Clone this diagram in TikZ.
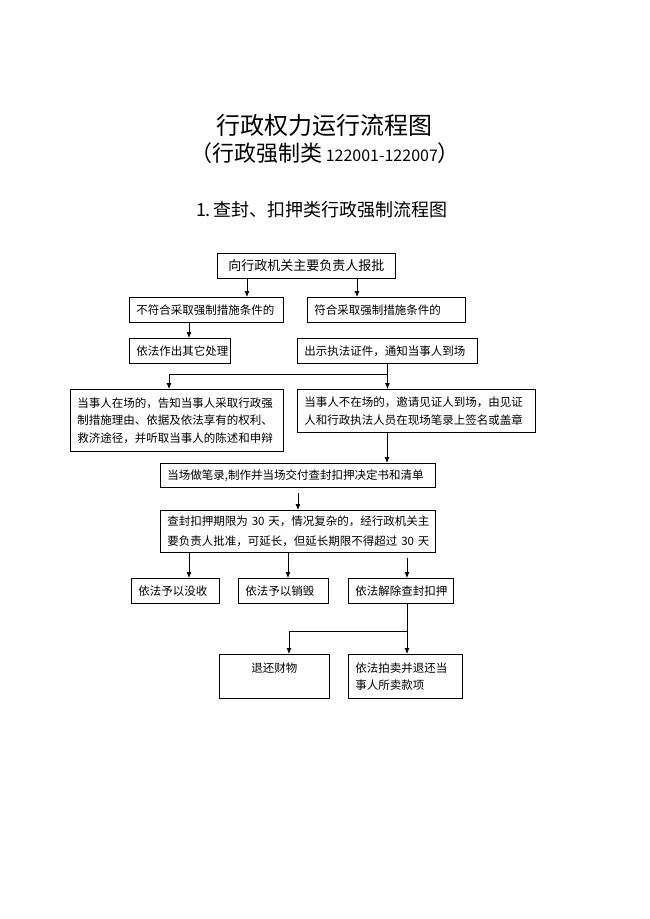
\documentclass[tikz,border=0pt]{standalone}
\usepackage{fontspec}
\setmainfont{Noto Sans CJK SC}
\usepackage{tikz}
\usetikzlibrary{arrows.meta,calc}

\tikzset{
  box/.style={draw, line width=0.9pt, anchor=north west, inner xsep=7pt, inner ysep=0pt,
    align=left, font=\fontsize{11.5}{17.5}\selectfont},
  arr/.style={line width=0.8pt, -{Latex[length=6pt,width=5pt]}},
  ln/.style={line width=0.8pt}
}

\begin{document}
\begin{tikzpicture}[x=1pt,y=-1pt]
\useasboundingbox (0,0) rectangle (649,919);
% titles
\node (title) at (324,125) {\fontsize{24}{24}\selectfont 行政权力运行流程图};
\node (subtitle) at (325,153) {\fontsize{22}{22}\selectfont （行政强制类\,{\fontsize{16}{16}\selectfont 122001-122007}）};
\node (heading) at (322,210) {\fontsize{18}{18}\selectfont 1.\,查封、扣押类行政强制流程图};
% boxes
\node[box, align=center, minimum width=178pt, minimum height=25pt, text width=164pt, font=\fontsize{13}{15}\selectfont] (top) at (217,253) {向行政机关主要负责人报批};
\node[box, minimum width=154pt, minimum height=25pt, text width=140pt] (nofit) at (129,297) {不符合采取强制措施条件的};
\node[box, minimum width=158pt, minimum height=25pt, text width=144pt] (fit) at (307,297) {符合采取强制措施条件的};
\node[box, minimum width=101pt, minimum height=25pt, text width=87pt] (other) at (129,338) {依法作出其它处理};
\node[box, minimum width=180pt, minimum height=25pt, text width=166pt] (show) at (297,338) {出示执法证件，通知当事人到场};
\node[box, minimum width=213pt, minimum height=62pt, text width=199pt] (present) at (70,389) {当事人在场的，告知当事人采取行政强\\制措施理由、依据及依法享有的权利、\\救济途径，并听取当事人的陈述和申辩};
\node[box, minimum width=238pt, minimum height=43pt, text width=224pt] (absent) at (297,389) {当事人不在场的，邀请见证人到场，由见证\\人和行政执法人员在现场笔录上签名或盖章};
\node[box, minimum width=275pt, minimum height=24pt, text width=261pt] (record) at (160,463) {当场做笔录,制作并当场交付查封扣押决定书和清单};
\node[box, minimum width=275pt, minimum height=42pt, text width=261pt, font=\fontsize{11.5}{20}\selectfont] (term) at (160,510) {查封扣押期限为~30~天，情况复杂的，经行政机关主\\要负责人批准，可延长，但延长期限不得超过~30~天};
\node[box, minimum width=88pt, minimum height=25pt, text width=74pt] (confis) at (131,578) {依法予以没收};
\node[box, minimum width=90pt, minimum height=25pt, text width=76pt] (destroy) at (238,578) {依法予以销毁};
\node[box, minimum width=105pt, minimum height=25pt, text width=91pt] (release) at (348,578) {依法解除查封扣押};
\node[box, align=center, minimum width=110pt, minimum height=44pt, text width=96pt] (returnp) at (219,654) {退还财物\\\mbox{}};
\node[box, minimum width=114pt, minimum height=44pt, text width=100pt] (auction) at (348,654) {依法拍卖并退还当\\事人所卖款项};
% joints
\coordinate (split) at ($(show.south)+(0,10)$);
\coordinate (rjoin) at ($([xshift=59pt]release.south west)+(0,27)$);
% connectors
\draw[arr] ([xshift=30pt]top.south west) -- ([xshift=30pt]top.south west |- nofit.north);
\draw[arr] ([xshift=140pt]top.south west) -- ([xshift=140pt]top.south west |- fit.north);
\draw[arr] ([xshift=60pt]nofit.south west) -- ([xshift=60pt]nofit.south west |- other.north);
\draw[arr] (show.south) -- (show.south |- absent.north);
\draw[arr] (split) -| ([xshift=99pt]present.north west);
\draw[arr] ([xshift=90pt]absent.south west) -- ([xshift=90pt]absent.south west |- record.north);
\draw[arr] ([yshift=-5pt]record.south) -- (record.south |- term.north);
\draw[arr] ([xshift=29pt]term.south west) -- ([xshift=29pt]term.south west |- confis.north);
\draw[arr] ([xshift=128pt]term.south west) -- ([xshift=128pt]term.south west |- destroy.north);
\draw[arr] ([xshift=247pt,yshift=-5pt]term.south west) -- ([xshift=247pt]term.south west |- release.north);
\draw[ln] ([xshift=59pt]release.south west) -- (rjoin);
\draw[arr] (rjoin) -| ([xshift=70pt]returnp.north west);
\draw[arr] (rjoin) -- (rjoin |- auction.north);
\end{tikzpicture}
\end{document}
